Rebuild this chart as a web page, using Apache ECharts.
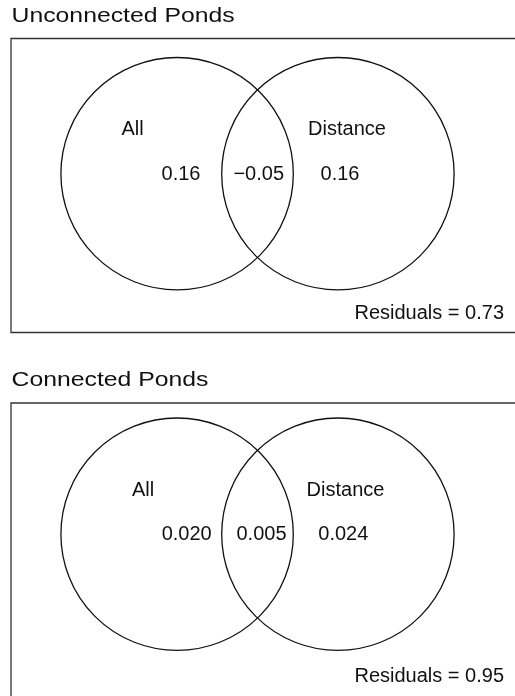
<!DOCTYPE html>
<html>
<head>
<meta charset="utf-8">
<script src="https://cdn.jsdelivr.net/npm/echarts@6/dist/echarts.min.js"></script>
<style>
  html, body { margin: 0; padding: 0; background: #ffffff; overflow: hidden; }
  #chart { width: 515px; height: 696px; }
</style>
</head>
<body>
<div id="chart"></div>
<script>
// Variance partitioning between two explanatory sets, one Venn panel per pond type
const panelTitles = ['Unconnected Ponds', 'Connected Ponds'];
const setNames = ['All', 'Distance'];
const uniqueAll = [0.16, 0.020];
const sharedAllDistance = [-0.05, 0.005];
const uniqueDistance = [0.16, 0.024];
const residuals = [0.73, 0.95];
const decimals = [2, 3];

const FONT_FAMILY = '"Liberation Sans", Arial, Helvetica, sans-serif';
const INK = '#111111';

// Panel geometry, in pixel units measured from each panel frame's top-left corner.
// The frames run past the right edge (and the lower one past the bottom edge).
const BOX_W = 510;
const BOX_H = [294, 300];
const layout = [
  { top: 38.5, titleY: 16.7, circleY: 135.2, nameY: 91.0, valueY: 136.0,
    nameX: [121.5, 336], valueX: [170, 247.7, 329], residY: 274.5 },
  { top: 403, titleY: 380.5, circleY: 131.2, nameY: 87.6, valueY: 131.7,
    nameX: [132, 334.5], valueX: [175.7, 250.5, 332.3], residY: 273.3 }
];
const circleX = [166.1, 326.9];
const circleR = 116.2;

function fmt(v, d) {
  return (v < 0 ? '\u2212' : '') + Math.abs(v).toFixed(d);
}

const grids = [], xAxes = [], yAxes = [], series = [], graphics = [];

panelTitles.forEach(function (title, p) {
  const L = layout[p];
  grids.push({
    left: 11, top: L.top, width: BOX_W, height: BOX_H[p],
    outerBoundsMode: 'none',
    containLabel: false,
    show: true, borderColor: '#333333', borderWidth: 1.3,
    backgroundColor: 'transparent'
  });
  xAxes.push({ gridIndex: p, type: 'value', min: 0, max: BOX_W, show: false });
  yAxes.push({ gridIndex: p, type: 'value', min: 0, max: BOX_H[p], inverse: true, show: false });

  // Set circles
  series.push({
    type: 'custom',
    xAxisIndex: p, yAxisIndex: p,
    silent: true,
    clip: false,
    data: setNames.map(function (name, i) {
      return { name: name, value: [circleX[i], L.circleY, circleR] };
    }),
    renderItem: function (params, api) {
      const c = api.coord([api.value(0), api.value(1)]);
      const r = api.size([api.value(2), 0])[0];
      return {
        type: 'circle',
        shape: { cx: c[0], cy: c[1], r: r },
        style: { fill: 'none', stroke: INK, lineWidth: 1.3 }
      };
    }
  });

  // Set names, partition fractions and residuals
  const texts = [
    { value: [L.nameX[0], L.nameY], text: setNames[0], align: 'center' },
    { value: [L.nameX[1], L.nameY], text: setNames[1], align: 'center' },
    { value: [L.valueX[0], L.valueY], text: fmt(uniqueAll[p], decimals[p]), align: 'center' },
    { value: [L.valueX[1], L.valueY], text: fmt(sharedAllDistance[p], decimals[p]), align: 'center' },
    { value: [L.valueX[2], L.valueY], text: fmt(uniqueDistance[p], decimals[p]), align: 'center' },
    { value: [493, L.residY], text: 'Residuals = ' + residuals[p].toFixed(2), align: 'right' }
  ];
  series.push({
    type: 'custom',
    xAxisIndex: p, yAxisIndex: p,
    silent: true,
    clip: false,
    data: texts.map(function (t) { return { value: t.value }; }),
    renderItem: function (params, api) {
      const t = texts[params.dataIndex];
      const c = api.coord([api.value(0), api.value(1)]);
      return {
        type: 'text',
        x: c[0], y: c[1],
        style: {
          text: t.text,
          font: '20px ' + FONT_FAMILY,
          fill: INK,
          align: t.align,
          verticalAlign: 'middle'
        }
      };
    }
  });

  // Panel heading
  graphics.push({
    type: 'text',
    x: 11.5, y: L.titleY,
    scaleX: 1.18,
    silent: true,
    style: {
      text: title,
      font: '21px ' + FONT_FAMILY,
      fill: INK,
      align: 'left',
      verticalAlign: 'middle'
    }
  });
});

const chart = echarts.init(document.getElementById('chart'), null, { renderer: 'canvas' });
chart.setOption({
  animation: false,
  backgroundColor: '#ffffff',
  grid: grids,
  xAxis: xAxes,
  yAxis: yAxes,
  series: series,
  graphic: graphics
});
</script>
</body>
</html>
